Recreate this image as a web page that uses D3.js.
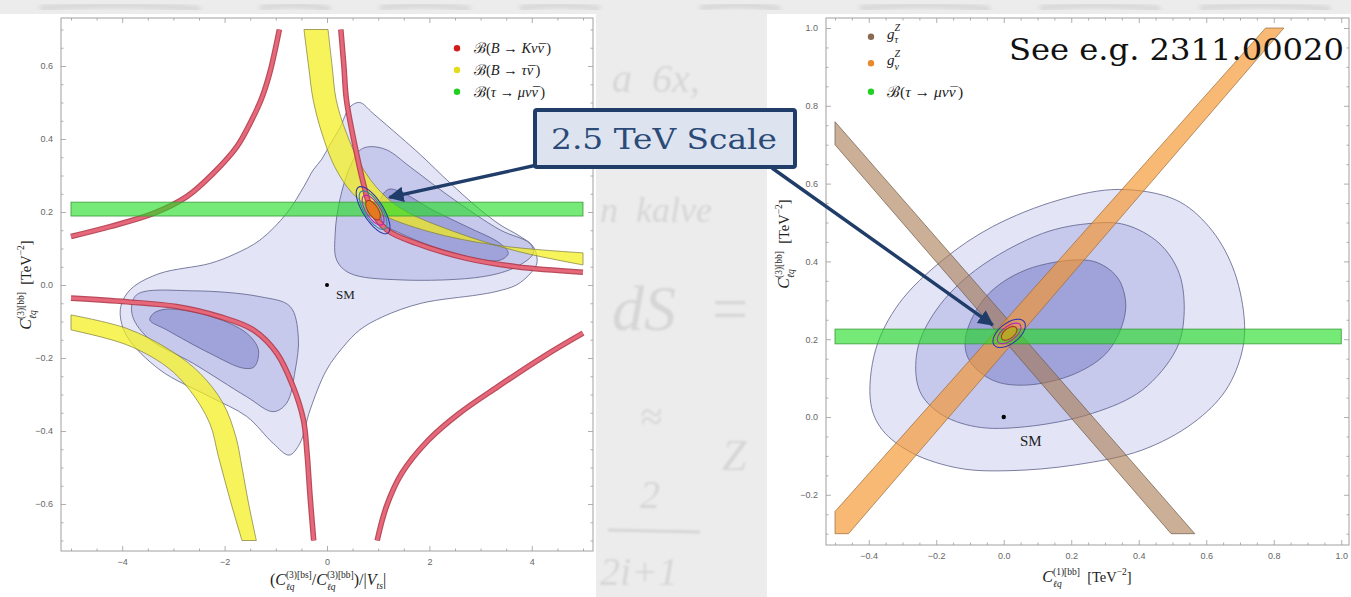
<!DOCTYPE html>
<html><head><meta charset="utf-8">
<script src="https://cdn.jsdelivr.net/npm/d3@7"></script>
<style>body{margin:0;background:#fff;}svg{display:block}svg text{white-space:pre}</style>
</head><body>
<svg id="c" width="1351" height="597"></svg>
<script>
// ---------- LEFT PANEL DATA (x: ratio/|Vts|, y: C(3)[bb] TeV^-2) ----------
const leftXTicks = [-4, -2, 0, 2, 4];
const leftYTicks = [-0.6, -0.4, -0.2, 0.0, 0.2, 0.4, 0.6];
const leftOuter = [[0.64,0.50],[0.9,0.47],[1.43,0.406],[1.84,0.355],[2.4,0.28],[2.96,0.21],[3.38,0.165],[3.75,0.135],[4.03,0.105],[4.1,0.06],[3.96,0.03],[3.7,0.0],[3.3,-0.018],[2.95,-0.027],[1.84,-0.05],[1.09,-0.087],[0.64,-0.123],[0.32,-0.169],[-0.01,-0.233],[-0.33,-0.342],[-0.53,-0.434],[-0.74,-0.466],[-1.05,-0.434],[-1.57,-0.36],[-2.29,-0.306],[-3.26,-0.233],[-3.91,-0.14],[-4.04,-0.078],[-3.98,-0.04],[-3.78,-0.005],[-3.26,0.032],[-2.29,0.059],[-1.8,0.085],[-1.31,0.123],[-0.79,0.196],[-0.45,0.27],[-0.27,0.315],[-0.1,0.345],[0.06,0.385],[0.25,0.43],[0.45,0.488]];
const leftMidUR = [[0.84,0.379],[1.17,0.37],[1.62,0.324],[2.40,0.242],[3.38,0.151],[3.96,0.114],[4.03,0.087],[3.7,0.05],[3.05,0.023],[1.43,0.014],[0.45,0.032],[0.19,0.068],[0.16,0.142],[0.25,0.233],[0.45,0.324],[0.65,0.37]];
const leftMidLL = [[-3.72,-0.027],[-2.61,-0.016],[-1.31,-0.032],[-0.72,-0.059],[-0.56,-0.142],[-0.62,-0.233],[-0.79,-0.324],[-1.05,-0.347],[-1.57,-0.306],[-2.61,-0.215],[-3.52,-0.142],[-3.81,-0.078]];
const leftInUR = [[1.2,0.262],[1.43,0.256],[2.07,0.205],[2.73,0.16],[3.38,0.114],[3.54,0.087],[3.38,0.068],[2.73,0.078],[2.07,0.105],[1.43,0.142],[1.1,0.169],[1.04,0.233]];
const leftInLL = [[-3.39,-0.078],[-3.13,-0.066],[-2.29,-0.085],[-1.57,-0.132],[-1.34,-0.178],[-1.42,-0.224],[-1.63,-0.228],[-2.29,-0.187],[-3.13,-0.123],[-3.46,-0.096]];
// B -> K nu nubar (red) branches
const redUL = [[-5,0.133],[-4.24,0.16],[-3.39,0.196],[-2.74,0.242],[-2.22,0.306],[-1.76,0.379],[-1.47,0.452],[-1.28,0.51],[-1.12,0.58],[-0.93,0.70]];
const redUR = [[0.27,0.70],[0.33,0.60],[0.38,0.507],[0.55,0.379],[0.71,0.279],[0.87,0.205],[1.17,0.151],[1.75,0.114],[2.73,0.073],[3.7,0.05],[5,0.035]];
const redLL = [[-5,-0.036],[-3.91,-0.046],[-2.94,-0.059],[-2.09,-0.087],[-1.44,-0.123],[-0.98,-0.187],[-0.66,-0.279],[-0.46,-0.37],[-0.39,-0.461],[-0.33,-0.58],[-0.26,-0.70]];
const redLR = [[0.98,-0.70],[1.16,-0.607],[1.46,-0.516],[1.98,-0.425],[2.58,-0.352],[3.33,-0.279],[4.23,-0.196],[5,-0.132]];
// B -> tau nubar (yellow) band edges
const yelUpperA = [[-0.45,0.70],[-0.36,0.60],[-0.27,0.507],[-0.1,0.416],[0.15,0.324],[0.5,0.251],[1.0,0.198],[2.0,0.146],[3.3,0.109],[5.0,0.088]];
const yelUpperB = [[0.02,0.70],[0.1,0.60],[0.18,0.507],[0.38,0.416],[0.68,0.324],[1.05,0.255],[1.5,0.205],[2.45,0.148],[3.7,0.093],[5.0,0.055]];
const yelLowerA = [[-5,-0.082],[-3.91,-0.119],[-3.07,-0.178],[-2.48,-0.242],[-2.03,-0.324],[-1.78,-0.416],[-1.66,-0.5],[-1.53,-0.6],[-1.38,-0.70]];
const yelLowerB = [[-5,-0.123],[-3.91,-0.164],[-3.13,-0.224],[-2.68,-0.288],[-2.29,-0.379],[-2.12,-0.47],[-1.87,-0.6],[-1.66,-0.70]];
// tau -> mu nu nubar (green) band
const greenLeft = {x0:-5, x1:5, y0:0.189, y1:0.227};
const bestLeft = {cx:0.90, cy:0.205};
const ringsLeft = [ // [ax, ay, bx, by] semi-axes in data units
  [0.285,-0.0629,0.166,0.0148],[0.232,-0.0512,0.141,0.0126],[0.179,-0.0396,0.116,0.0104],[0.116,-0.0256,0.083,0.0074]];

// ---------- RIGHT PANEL DATA (x: C(1)[bb], y: C(3)[bb]) ----------
const rightXTicks = [-0.4, -0.2, 0.0, 0.2, 0.4, 0.6, 0.8, 1.0];
const rightYTicks = [-0.2, 0.0, 0.2, 0.4, 0.6, 0.8, 1.0];
const rightOuter = [[0.342,0.585],[0.164,0.558],[-0.034,0.489],[-0.18,0.404],[-0.31,0.292],[-0.38,0.172],[-0.394,0.035],[-0.36,-0.033],[-0.27,-0.093],[-0.13,-0.132],[0.016,-0.138],[0.213,-0.123],[0.41,-0.085],[0.56,-0.016],[0.658,0.069],[0.707,0.172],[0.712,0.258],[0.678,0.386],[0.608,0.489],[0.51,0.558]];
const rightMid = [[0.263,0.498],[0.115,0.472],[-0.083,0.378],[-0.2,0.275],[-0.256,0.172],[-0.25,0.069],[-0.19,0.0095],[-0.083,-0.025],[0.065,-0.025],[0.263,0.0095],[0.41,0.069],[0.51,0.172],[0.534,0.258],[0.52,0.369],[0.46,0.447],[0.361,0.494]];
const rightIn = [[0.233,0.404],[0.065,0.378],[-0.053,0.309],[-0.113,0.206],[-0.103,0.147],[-0.034,0.095],[0.065,0.082],[0.213,0.112],[0.312,0.172],[0.361,0.275],[0.342,0.352],[0.292,0.391]];
const brownBand = [[-0.5,0.759],[0.566,-0.3],[0.496,-0.3],[-0.5,0.70]];
const orangeBand = [[-0.5,-0.243],[0.776,1.0],[0.83,1.0],[-0.46,-0.3],[-0.5,-0.3]];
const greenRight = {x0:-0.5, x1:1.0, y0:0.188, y1:0.226};
const bestRight = {cx:0.016, cy:0.215};
const ringsRight = [[0.0444,0.0301,0.01825,-0.0203],[0.0327,0.0222,0.0128,-0.0142],[0.0210,0.0143,0.0091,-0.0101]];

// legend entries: [initial, final state (with barred neutrino last)]
const leftLegend = [["B", "Kνν"], ["B", "τν"], ["τ", "μνν"]];
const rightLegend = ["τ", "ν", ["τ", "μνν"]];

// ---------- SETUP ----------
const svg = d3.select('#c');
const SERIF = "'Liberation Serif','DejaVu Serif',serif";
const defs = svg.append('defs');
defs.append('filter').attr('id','blur').append('feGaussianBlur').attr('stdDeviation',1.3);
defs.append('filter').attr('id','blur2').append('feGaussianBlur').attr('stdDeviation',2.5);

// background (handwritten sheet)
svg.append('rect').attr('width',1351).attr('height',597).attr('fill','#ececec');
const hw = svg.append('g').attr('fill','#d6d6d6').attr('font-family',SERIF).attr('font-style','italic').attr('filter','url(#blur)');
[["a  6x,",612,92,40],["n  kalve",600,222,36],["dS  =",612,330,64],["≈",640,430,40],["Z",722,470,44],["2",640,508,40],["2i+1",600,585,40]].forEach(d=>{
  hw.append('text').attr('x',d[1]).attr('y',d[2]).attr('font-size',d[3]).text(d[0]);
});
hw.append('line').attr('x1',608).attr('x2',700).attr('y1',530).attr('y2',532).attr('stroke','#d6d6d6').attr('stroke-width',3);
const strip = svg.append('g').attr('filter','url(#blur2)').attr('stroke','#cdcdcd').attr('stroke-width',4).attr('fill','none');
[[40,200],[260,330],[380,470],[520,600],[700,780],[860,990],[1040,1160],[1200,1330]].forEach(s=>{
  strip.append('path').attr('d',`M${s[0]},8 Q${(s[0]+s[1])/2},2 ${s[1]},9`);
});
svg.append('rect').attr('x',0).attr('y',14).attr('width',596).attr('height',583).attr('fill','#fff');
svg.append('rect').attr('x',767).attr('y',14).attr('width',584).attr('height',583).attr('fill','#fff');

// math label helper: segments laid out left to right; st=1 stacks on the previous segment start
function mathLabel(parent, segs, x, y, anchor, rotate, color) {
  const g = parent.append('g').attr('font-family', SERIF).attr('fill', color || '#222');
  let cur = 0, segStart = 0, prevEnd = 0;
  segs.forEach(s => {
    const start = (s.st ? segStart : cur) + (s.dx || 0);
    if (!s.st) segStart = start;
    const el = g.append('text').attr('x', start).attr('y', s.dy || 0)
      .attr('font-size', s.s).attr('font-style', s.it ? 'italic' : 'normal').text(s.t);
    const end = start + el.node().getComputedTextLength();
    cur = s.st ? Math.max(prevEnd, end) : end;
    if (!s.st) prevEnd = end;
  });
  const off = anchor === 'middle' ? -cur / 2 : 0;
  g.attr('transform', `translate(${x},${y})` + (rotate ? ` rotate(${rotate})` : '') + ` translate(${off},0)`);
  return g;
}

function panel(cfg) {
  const {frame} = cfg;
  const clipId = cfg.id + 'clip';
  defs.append('clipPath').attr('id', clipId).append('rect')
    .attr('x', frame[0]).attr('y', frame[1]).attr('width', frame[2]-frame[0]).attr('height', frame[3]-frame[1]);
  const g = svg.append('g');
  const plot = g.append('g').attr('clip-path', `url(#${clipId})`);
  return {g, plot};
}

const ringLine = (sx, sy) => d3.line().x(d => sx(d[0])).y(d => sy(d[1])).curve(d3.curveLinearClosed);
function ellipsePts(c, r) {
  return d3.range(0, 2 * Math.PI, Math.PI / 40).map(t => [c.cx + Math.cos(t) * r[0] + Math.sin(t) * r[2], c.cy + Math.cos(t) * r[1] + Math.sin(t) * r[3]]);
}

function drawAxes(g, sx, sy, frame, xt, yt, xMinor, yMinor, fmtX, fmtY) {
  const [fx0, fy0, fx1, fy1] = frame;
  const ax = (axis, tr) => {
    const a = g.append('g').attr('transform', tr).call(axis);
    a.select('.domain').remove();
    a.selectAll('line').attr('stroke', '#9a9a9a').attr('stroke-width', 0.8);
    a.selectAll('text').attr('fill', '#666').attr('font-family', "'Liberation Sans',Arial,sans-serif").attr('font-size', 9);
    return a;
  };
  ax(d3.axisBottom(sx).tickValues(xt).tickSize(-5).tickPadding(8).tickFormat(fmtX), `translate(0,${fy1})`);
  ax(d3.axisBottom(sx).tickValues(xMinor).tickSize(-2.5).tickFormat(''), `translate(0,${fy1})`);
  ax(d3.axisTop(sx).tickValues(xt).tickSize(-5).tickFormat(''), `translate(0,${fy0})`);
  ax(d3.axisTop(sx).tickValues(xMinor).tickSize(-2.5).tickFormat(''), `translate(0,${fy0})`);
  ax(d3.axisLeft(sy).tickValues(yt).tickSize(-5).tickPadding(8).tickFormat(fmtY), `translate(${fx0},0)`);
  ax(d3.axisLeft(sy).tickValues(yMinor).tickSize(-2.5).tickFormat(''), `translate(${fx0},0)`);
  ax(d3.axisRight(sy).tickValues(yt).tickSize(-5).tickFormat(''), `translate(${fx1},0)`);
  ax(d3.axisRight(sy).tickValues(yMinor).tickSize(-2.5).tickFormat(''), `translate(${fx1},0)`);
  g.append('rect').attr('x', fx0).attr('y', fy0).attr('width', fx1 - fx0).attr('height', fy1 - fy0)
    .attr('fill', 'none').attr('stroke', '#a0a0a0').attr('stroke-width', 1);
}

const C_OUT = '#e3e5f7', C_MID = '#c6c9ec', C_IN = '#9fa3da', C_EDGE = '#5c6088';
const cl = (sup, big, small) => [{t: 'C', s: big, it: 1}, {t: sup, s: small, dy: -7}, {t: 'ℓq', s: small, dy: 4.5, it: 1, st: 1}];
const legendText = (e, size) => {
  const fin = e[1];
  return [{t: 'ℬ(', s: size}, {t: e[0], s: size, it: 1}, {t: ' → ', s: size},
    {t: fin.slice(0, -1), s: size, it: 1}, {t: fin.slice(-1), s: size, it: 1},
    {t: '¯', s: size, st: 1, dx: 1.5, dy: 0.5}, {t: ')', s: size}];
};

// ---------- LEFT PANEL ----------
const LX = d3.scaleLinear().domain([-5, 5]).range([71, 583]);
const LY = d3.scaleLinear().domain([-0.7, 0.7]).range([540.5, 29.5]);
const LF = [61, 18, 593, 551];
{
  const {g, plot} = panel({id: 'L', frame: LF});
  const closed = d3.line().x(d => LX(d[0])).y(d => LY(d[1])).curve(d3.curveCatmullRomClosed.alpha(0.5));
  const open = d3.line().x(d => LX(d[0])).y(d => LY(d[1])).curve(d3.curveCatmullRom.alpha(0.5));
  [[leftOuter, C_OUT], [leftMidUR, C_MID], [leftMidLL, C_MID], [leftInUR, C_IN], [leftInLL, C_IN]].forEach(([pts, c]) => {
    plot.append('path').attr('d', closed(pts)).attr('fill', c).attr('stroke', C_EDGE).attr('stroke-width', 0.8);
  });
  const band = (a, b) => open(a) + open(b.slice().reverse()).replace(/^M/, 'L') + 'Z';
  [[yelUpperA, yelUpperB], [yelLowerA, yelLowerB]].forEach(([a, b]) => {
    plot.append('path').attr('d', band(a, b)).attr('fill', '#f4ef1c').attr('fill-opacity', 0.72)
      .attr('stroke', '#7d7a3a').attr('stroke-width', 0.7);
  });
  [redUL, redUR, redLL, redLR].forEach(pts => {
    plot.append('path').attr('d', open(pts)).attr('fill', 'none').attr('stroke', '#b03848').attr('stroke-width', 5.6).attr('stroke-opacity', 0.9);
    plot.append('path').attr('d', open(pts)).attr('fill', 'none').attr('stroke', '#e6687a').attr('stroke-width', 3.2);
  });
  plot.append('rect').attr('x', LX(greenLeft.x0)).attr('y', LY(greenLeft.y1))
    .attr('width', LX(greenLeft.x1) - LX(greenLeft.x0)).attr('height', LY(greenLeft.y0) - LY(greenLeft.y1))
    .attr('fill', '#22dd22').attr('fill-opacity', 0.62).attr('stroke', '#3a9a3a').attr('stroke-width', 0.8);
  const rl = ringLine(LX, LY);
  const ringStyles = [['none', '#3535a8'], ['none', '#2a8b9b'], ['none', '#b524b5'], ['#e37b1e', '#b2352a']];
  ringsLeft.forEach((r, i) => {
    plot.append('path').attr('d', rl(ellipsePts(bestLeft, r))).attr('fill', ringStyles[i][0]).attr('stroke', ringStyles[i][1]).attr('stroke-width', 1.1);
  });
  plot.append('circle').attr('cx', LX(0)).attr('cy', LY(0)).attr('r', 2).attr('fill', '#000');
  plot.append('text').attr('x', LX(0) + 9).attr('y', LY(0) + 14).attr('font-family', SERIF).attr('font-size', 13).attr('fill', '#222').text('SM');

  drawAxes(g, LX, LY, LF, leftXTicks, leftYTicks,
    d3.range(-5, 5.01, 0.5).filter(v => !leftXTicks.includes(v)),
    d3.range(-14, 15).map(i => i * 0.05).filter(v => Math.abs(Math.round(v * 100) % 20) !== 0),
    d3.format('d'), d3.format('.1f'));

  const legColors = ['#d21c1c', '#e3dc1a', '#22d022'];
  leftLegend.forEach((e, i) => {
    const yy = 48.3 + i * 21.7;
    g.append('circle').attr('cx', 457).attr('cy', yy).attr('r', 3.2).attr('fill', legColors[i]);
    mathLabel(g, legendText(e, 14.5), 474, yy + 5, 'start');
  });
  mathLabel(g, [...cl('(3)[bb]', 16, 9.5), {t: '  [TeV', s: 14.5}, {t: '−2', s: 9.5, dy: -7}, {t: ']', s: 14.5}], 31, 285, 'middle', -90);
  mathLabel(g, [{t: '(', s: 16}, ...cl('(3)[bs]', 16, 9.5), {t: '/', s: 16}, ...cl('(3)[bb]', 16, 9.5), {t: ')/|', s: 16},
    {t: 'V', s: 16, it: 1}, {t: 'ts', s: 9.5, dy: 3.5, it: 1}, {t: '|', s: 16}], 328, 585, 'middle');
}

// ---------- RIGHT PANEL ----------
const RX = d3.scaleLinear().domain([-0.5, 1.0]).range([835, 1341.25]);
const RY = d3.scaleLinear().domain([-0.3, 1.0]).range([533.7, 28]);
const RF = [826, 18, 1349, 545];
{
  const {g, plot} = panel({id: 'R', frame: RF});
  const closed = d3.line().x(d => RX(d[0])).y(d => RY(d[1])).curve(d3.curveCatmullRomClosed.alpha(0.5));
  const poly = d3.line().x(d => RX(d[0])).y(d => RY(d[1])).curve(d3.curveLinearClosed);
  [[rightOuter, C_OUT], [rightMid, C_MID], [rightIn, C_IN]].forEach(([pts, c]) => {
    plot.append('path').attr('d', closed(pts)).attr('fill', c).attr('stroke', C_EDGE).attr('stroke-width', 0.8);
  });
  plot.append('path').attr('d', poly(brownBand)).attr('fill', '#a87a52').attr('fill-opacity', 0.6).attr('stroke', '#6e5a48').attr('stroke-width', 0.7);
  plot.append('path').attr('d', poly(orangeBand)).attr('fill', '#f5952e').attr('fill-opacity', 0.66).attr('stroke', '#9a6a3a').attr('stroke-width', 0.7);
  plot.append('rect').attr('x', RX(greenRight.x0)).attr('y', RY(greenRight.y1))
    .attr('width', RX(greenRight.x1) - RX(greenRight.x0)).attr('height', RY(greenRight.y0) - RY(greenRight.y1))
    .attr('fill', '#22dd22').attr('fill-opacity', 0.62).attr('stroke', '#3a9a3a').attr('stroke-width', 0.8);
  const rl = ringLine(RX, RY);
  const ringStyles = [['none', '#3535b0'], ['none', '#b524b5'], ['#b8a82a', '#b2352a']];
  ringsRight.forEach((r, i) => {
    plot.append('path').attr('d', rl(ellipsePts(bestRight, r))).attr('fill', ringStyles[i][0]).attr('stroke', ringStyles[i][1]).attr('stroke-width', 1.1);
  });
  plot.append('circle').attr('cx', RX(0)).attr('cy', RY(0)).attr('r', 2.2).attr('fill', '#000');
  plot.append('text').attr('x', RX(0) + 27).attr('y', RY(0) + 29).attr('text-anchor', 'middle').attr('font-family', SERIF).attr('font-size', 15).attr('fill', '#222').text('SM');

  drawAxes(g, RX, RY, RF, rightXTicks, rightYTicks,
    d3.range(-10, 21).map(i => i * 0.05).filter(v => Math.abs(Math.round(v * 100) % 20) !== 0),
    d3.range(-6, 21).map(i => i * 0.05).filter(v => Math.abs(Math.round(v * 100) % 20) !== 0),
    d3.format('.1f'), d3.format('.1f'));

  const legColors = ['#8a6a52', '#e8892c', '#22d022'];
  const legY = [36.7, 63.3, 91.7];
  rightLegend.forEach((t, i) => {
    g.append('circle').attr('cx', 871).attr('cy', legY[i]).attr('r', 3.2).attr('fill', legColors[i]);
    if (i < 2) {
      mathLabel(g, [{t: 'g', s: 15, it: 1}, {t: 'Z', s: 10, dy: -8, it: 1}, {t: t, s: 10, dy: 4.5, it: 1, st: 1}], 887, legY[i] + 2, 'start');
    } else {
      mathLabel(g, legendText(t, 15.5), 887, legY[i] + 5, 'start');
    }
  });
  mathLabel(g, [...cl('(3)[bb]', 16, 9.5), {t: '  [TeV', s: 14.5}, {t: '−2', s: 9.5, dy: -7}, {t: ']', s: 14.5}], 789, 244, 'middle', -90);
  mathLabel(g, [...cl('(1)[bb]', 16, 9.5), {t: '  [TeV', s: 14.5}, {t: '−2', s: 9.5, dy: -7}, {t: ']', s: 14.5}], 1087, 582, 'middle');

  g.append('text').attr('x', 1009).attr('y', 60).attr('font-family', "'DejaVu Serif',serif").attr('font-size', 30)
    .attr('textLength', 335).attr('lengthAdjust', 'spacingAndGlyphs').attr('fill', '#111').text('See e.g. 2311.00020');
}

// ---------- ANNOTATION: 2.5 TeV Scale ----------
const NAVY = '#1f3d68';
const ann = svg.append('g');
defs.append('marker').attr('id', 'ah').attr('viewBox', '0 0 10 10').attr('refX', 9).attr('refY', 5)
  .attr('markerWidth', 4.6).attr('markerHeight', 4.6).attr('orient', 'auto-start-reverse')
  .append('path').attr('d', 'M0,0L10,5L0,10Z').attr('fill', NAVY);
ann.append('line').attr('x1', 537).attr('y1', 165).attr('x2', LX(1.22)).attr('y2', LY(0.24))
  .attr('stroke', NAVY).attr('stroke-width', 3.4).attr('marker-end', 'url(#ah)');
ann.append('line').attr('x1', 772).attr('y1', 168).attr('x2', RX(-0.033)).attr('y2', RY(0.237))
  .attr('stroke', NAVY).attr('stroke-width', 3.4).attr('marker-end', 'url(#ah)');
ann.append('rect').attr('x', 535).attr('y', 110).attr('width', 260).attr('height', 57).attr('rx', 2)
  .attr('fill', '#dde4ef').attr('stroke', NAVY).attr('stroke-width', 4);
ann.append('text').attr('x', 551).attr('y', 149).attr('font-family', "'DejaVu Serif',serif").attr('font-size', 27)
  .attr('textLength', 226).attr('lengthAdjust', 'spacingAndGlyphs').attr('fill', '#2b4a78').text('2.5 TeV Scale');
</script>
</body></html>
